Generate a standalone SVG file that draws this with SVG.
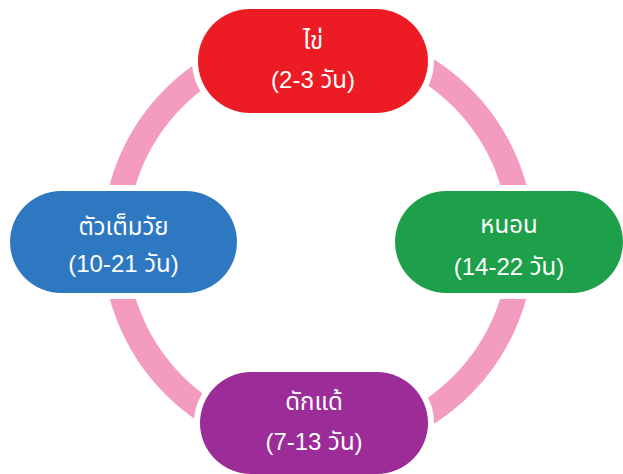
<svg xmlns="http://www.w3.org/2000/svg" width="623" height="474" viewBox="0 0 623 474">
<style>
.ring{fill:none;stroke:#f39cc0;stroke-width:25;stroke-linecap:butt}
.halo{fill:#ffffff}
.lbl{fill:#ffffff;font-family:"Liberation Sans","Noto Sans Thai","Noto Sans","DejaVu Sans",sans-serif;font-size:24px;text-anchor:middle}
</style>
<rect width="623" height="474" fill="#ffffff"/>
<g id="connectors">
<path class="ring" d="M318,38 A203.5,203.5 0 0 1 521.5,241.5"/>
<path class="ring" d="M521.5,241.5 A203.5,203.5 0 0 1 318,445"/>
<path class="ring" d="M318,445 A203.5,203.5 0 0 1 114.5,241.5"/>
<path class="ring" d="M114.5,241.5 A203.5,203.5 0 0 1 318,38"/>
</g>
<g id="egg">
<rect class="halo" x="192" y="3" width="242" height="116" rx="58"/>
<rect x="198" y="9" width="230" height="104" rx="52" fill="#ed1c24"/>
<text class="lbl" x="313" y="49">ไข่</text>
<text class="lbl" x="313" y="88">(2-3 วัน)</text>
</g>
<g id="larva">
<rect class="halo" x="389" y="185" width="240" height="114" rx="57"/>
<rect x="395" y="191" width="228" height="102" rx="51" fill="#1ea04a"/>
<text class="lbl" x="509" y="233">หนอน</text>
<text class="lbl" x="509" y="275">(14-22 วัน)</text>
</g>
<g id="pupa">
<rect class="halo" x="194" y="366" width="240" height="114" rx="57"/>
<rect x="200" y="372" width="228" height="102" rx="51" fill="#9c2c98"/>
<text class="lbl" x="314" y="410">ดักแด้</text>
<text class="lbl" x="314" y="450">(7-13 วัน)</text>
</g>
<g id="adult">
<rect class="halo" x="4" y="185" width="239" height="114" rx="57"/>
<rect x="10" y="191" width="227" height="102" rx="51" fill="#2e77c1"/>
<text class="lbl" x="123.5" y="235">ตัวเต็มวัย</text>
<text class="lbl" x="123.5" y="272">(10-21 วัน)</text>
</g>
</svg>
